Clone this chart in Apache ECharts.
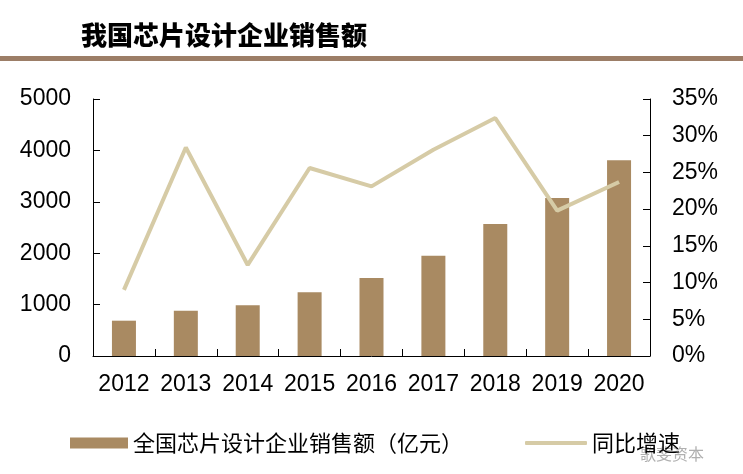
<!DOCTYPE html>
<html>
<head>
<meta charset="utf-8">
<script src="https://cdn.jsdelivr.net/npm/echarts@6/dist/echarts.min.js"></script>
<style>html,body{margin:0;padding:0;background:#fff;}#c{width:743px;height:474px;}</style>
</head>
<body>
<div id="c"></div>
<script>
var years = ['2012','2013','2014','2015','2016','2017','2018','2019','2020'];
var sales = [687, 881, 986, 1239, 1518, 1951, 2568, 3074, 3807];
var growth = [9.0, 28.4, 12.4, 25.6, 23.1, 28.1, 32.4, 19.8, 23.7];
var leftTicks = [0, 1000, 2000, 3000, 4000, 5000];
var rightTicks = [0, 5, 10, 15, 20, 25, 30, 35];

var chart = echarts.init(document.getElementById('c'));
var axisFont = {fontFamily: 'Liberation Sans, Arial, sans-serif', fontSize: 23, color: '#000'};
chart.setOption({
  animation: false,
  backgroundColor: '#fff',
  title: {
    text: '我国芯片设计企业销售额',
    left: 76, top: 17,
    textStyle: {fontFamily: 'Noto Sans CJK SC', fontWeight: 900, fontSize: 26, color: '#000'}
  },
  graphic: [
    {type: 'rect', left: 0, top: 56, shape: {width: 743, height: 5}, style: {fill: '#9C7E67'}},
    {type: 'text', left: 640, top: 446, style: {text: '歌斐资本', fill: '#b0b0b0', font: '16px "Noto Sans CJK SC"'}}
  ],
  legend: [
    {
      data: ['全国芯片设计企业销售额（亿元）'],
      left: 65, top: 427,
      itemWidth: 58, itemHeight: 11, itemGap: 8,
      icon: 'rect',
      textStyle: {fontFamily: 'Noto Sans CJK SC', fontSize: 22, color: '#000'}
    },
    {
      data: ['同比增速'],
      left: 520, top: 427,
      itemWidth: 62, itemHeight: 4, itemGap: 8,
      icon: 'roundRect',
      textStyle: {fontFamily: 'Noto Sans CJK SC', fontSize: 22, color: '#000'}
    }
  ],
  grid: {left: 93, right: 93, top: 99, bottom: 118},
  xAxis: {
    type: 'category',
    data: years,
    axisLine: {lineStyle: {color: '#000', width: 1}},
    axisTick: {show: true, inside: true, length: 7, lineStyle: {color: '#000'}},
    axisLabel: Object.assign({margin: 17, interval: 0}, axisFont)
  },
  yAxis: [
    {
      type: 'value', min: 0, max: 5000, interval: 1000,
      axisLine: {show: true, lineStyle: {color: '#000'}},
      axisTick: {show: true, inside: true, length: 7, lineStyle: {color: '#000'}},
      splitLine: {show: false},
      axisLabel: Object.assign({margin: 22, formatter: function (v) { return String(v); }}, axisFont)
    },
    {
      type: 'value', min: 0, max: 35, interval: 5, position: 'right',
      axisLine: {show: true, lineStyle: {color: '#000'}},
      axisTick: {show: true, inside: true, length: 7, lineStyle: {color: '#000'}},
      splitLine: {show: false},
      axisLabel: Object.assign({margin: 22, formatter: '{value}%'}, axisFont)
    }
  ],
  series: [
    {
      name: '全国芯片设计企业销售额（亿元）',
      type: 'bar', data: sales, yAxisIndex: 0,
      barWidth: 24,
      itemStyle: {color: '#A98A62'}
    },
    {
      name: '同比增速',
      type: 'line', data: growth, yAxisIndex: 1,
      symbol: 'none',
      lineStyle: {color: '#D6CBA6', width: 4},
      itemStyle: {color: '#D6CBA6'}
    }
  ]
});
</script>
</body>
</html>
